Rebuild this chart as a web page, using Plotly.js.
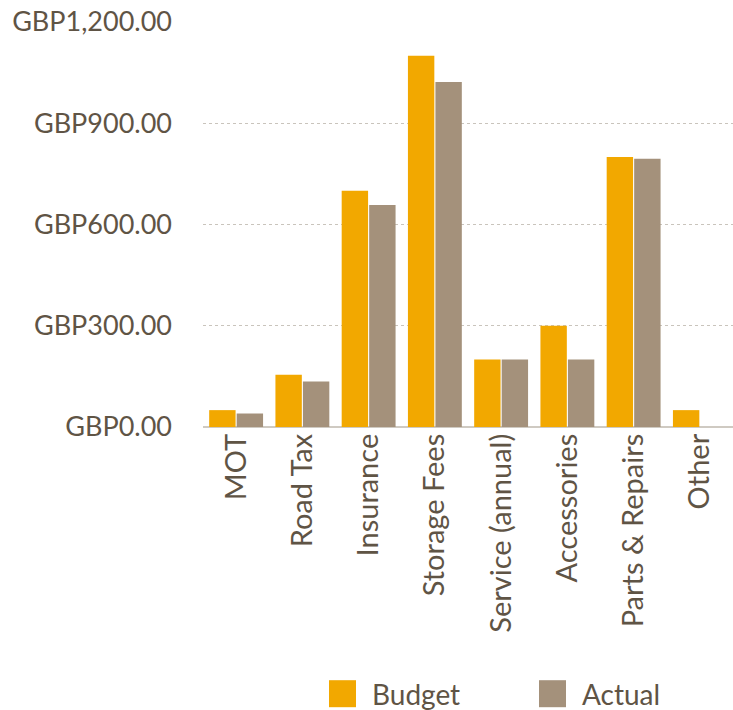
<!DOCTYPE html>
<html>
<head>
<meta charset="utf-8">
<script src="https://cdn.plot.ly/plotly-3.0.1.min.js"></script>
<style>
html,body{margin:0;padding:0;background:#fff;}
#chart{width:733px;height:710px;}
.legendpoints path{transform:translate(13.5px,0) scale(2.25);}
</style>
</head>
<body>
<div id="chart"></div>
<script>
const categories = ["MOT","Road Tax","Insurance","Storage Fees","Service (annual)","Accessories","Parts & Repairs","Other"];
const budget = [50,155,700,1100,200,300,800,50];
const actual = [40,135,658,1022,200,200,795,0];
const yTicks = [0,300,600,900,1200];
const yTickText = yTicks.map(v => "GBP" + v.toLocaleString("en-GB",{minimumFractionDigits:2, maximumFractionDigits:2}));

const textColor = "#5f5445";
const fontFam = "Lato, 'Open Sans', sans-serif";

const traces = [
  {type:"bar", name:"Budget", x:categories, y:budget, marker:{color:"#F2A800"}, hoverinfo:"x+y"},
  {type:"bar", name:"Actual", x:categories, y:actual, marker:{color:"#A4917B"}, hoverinfo:"x+y"}
];

const layout = {
  width:733, height:710,
  margin:{l:203, r:0, t:22, b:283},
  paper_bgcolor:"#fff", plot_bgcolor:"#fff",
  barmode:"group", bargap:0.17, bargroupgap:0.04,
  font:{family:fontFam, color:textColor, size:27},
  showlegend:true,
  legend:{orientation:"h", xref:"container", yref:"container", x:329/733, xanchor:"left",
          y:1-694/710, yanchor:"middle", borderwidth:0,
          font:{size:28, color:textColor}, itemwidth:33, entrywidth:162, entrywidthmode:"pixels",
          tracegroupgap:0},
  xaxis:{
    type:"category", tickangle:-90, showgrid:false, zeroline:false,
    showline:false, ticks:"", tickfont:{size:29, color:textColor}, automargin:false
  },
  yaxis:{
    range:[0,1200], tickvals:yTicks, ticktext:yTickText,
    showgrid:true, gridcolor:"#c9c4bc", griddash:"3px,3px", gridwidth:1,
    zeroline:true, zerolinecolor:"#cfcac2", zerolinewidth:2,
    tickfont:{size:27, color:textColor}, ticklabelstandoff:30, automargin:false
  }
};

Plotly.newPlot("chart", traces, layout, {displayModeBar:false, staticPlot:true});
</script>
</body>
</html>
